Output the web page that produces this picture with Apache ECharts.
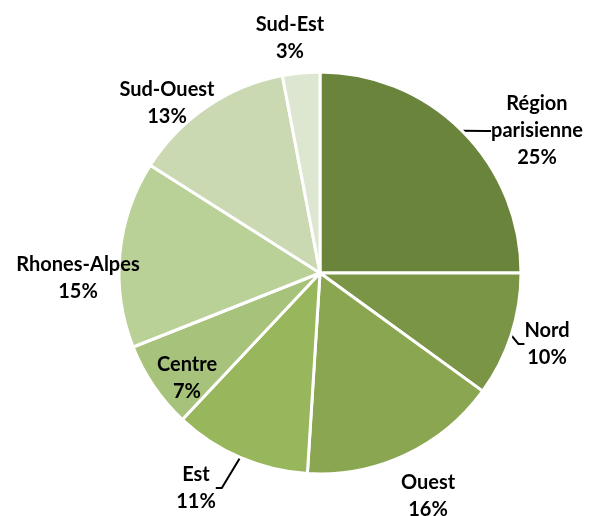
<!DOCTYPE html>
<html><head><meta charset="utf-8">
<script src="https://cdn.jsdelivr.net/npm/echarts@6/dist/echarts.min.js"></script>
<style>html,body{margin:0;padding:0;background:#fff}#c{width:590px;height:516px}</style>
</head><body><div id="c"></div>
<script>
const categories = ['Région parisienne','Nord','Ouest','Est','Centre','Rhones-Alpes','Sud-Ouest','Sud-Est'];
const values = [25,10,16,11,7,15,13,3];
const colors = ['#6b843c','#7b9547','#8aa651','#98b65c','#a7c27a','#b9d097','#cbd9b3','#dde6d0'];
const showLine = [true,true,false,true,false,false,false,false];
// label anchor positions (centre of label box)
const labelPos = [[537,131],[547,344],[428,496],[196,488],[187,378],[78,278],[167,103],[290,38]];

const chart = echarts.init(document.getElementById('c'), null, {renderer:'canvas'});
chart.setOption({
  animation:false,
  series:[{
    type:'pie',
    center:[320,273],
    radius:201,
    startAngle:90,
    clockwise:true,
    itemStyle:{borderColor:'#fff',borderWidth:3},
    label:{
      show:true,
      position:'outside',
      formatter:p=>p.name.replace('Région parisienne','Région\nparisienne')+'\n'+p.value+'%',
      fontFamily:'Lato',
      fontWeight:'bold',
      fontSize:20,
      lineHeight:27,
      color:'#000',
      align:'center',
      overflow:'none'
    },
    labelLine:{show:true,length:6,length2:6,lineStyle:{color:'#000',width:2}},
    labelLayout:function(params){
      const p = labelPos[params.dataIndex];
      return {x:p[0],y:p[1],align:'center',verticalAlign:'middle'};
    },
    data:categories.map((n,i)=>({
      name:n,value:values[i],
      itemStyle:{color:colors[i]},
      labelLine:{show:showLine[i]}
    }))
  }]
});
</script></body></html>
